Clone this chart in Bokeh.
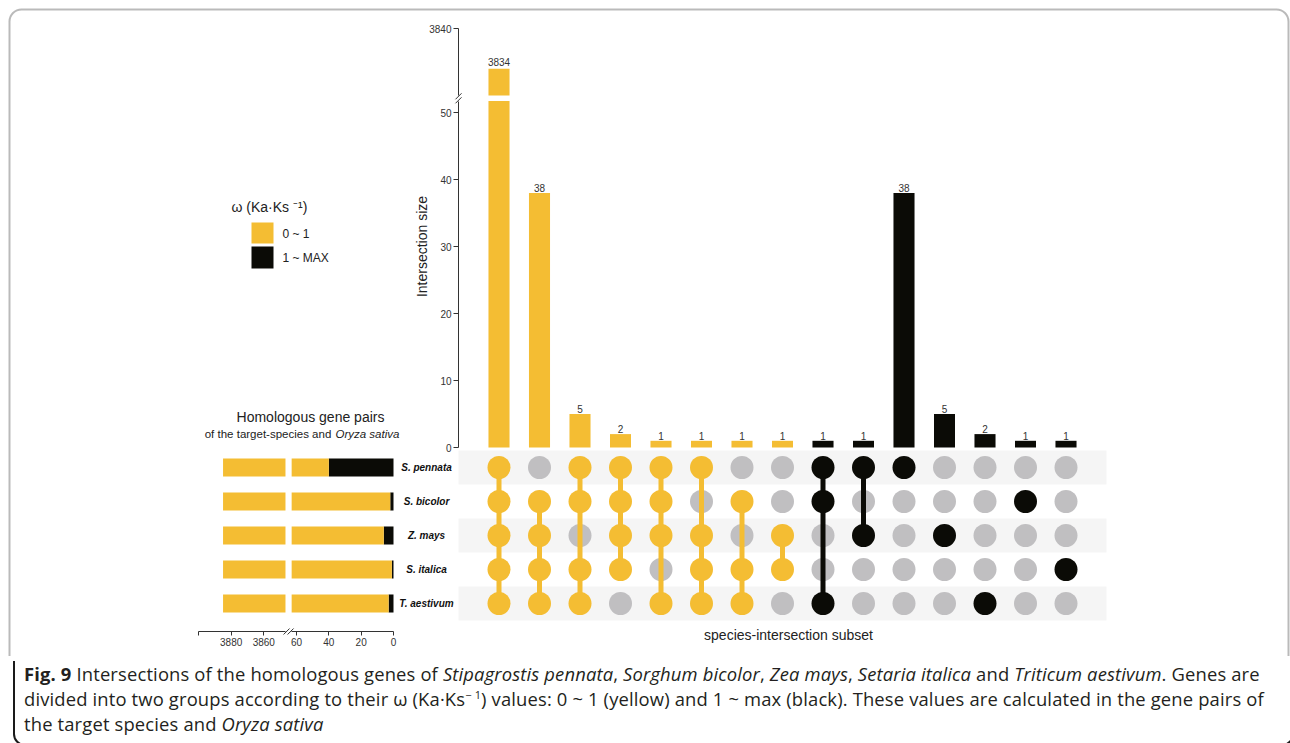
import math
from bokeh.plotting import figure
from bokeh.models import Range1d, LinearAxis, FixedTicker, BoxAnnotation, Div
from bokeh.layouts import column
from bokeh.embed import file_html
from bokeh.resources import INLINE
from bokeh.core.properties import value

# ---------------- data ----------------
species = ["S. pennata", "S. bicolor", "Z. mays", "S. italica", "T. aestivum"]
subset_sizes = [3834, 38, 5, 2, 1, 1, 1, 1, 1, 1, 38, 5, 2, 1, 1]
subset_group = ["0 ~ 1"] * 8 + ["1 ~ MAX"] * 7
# membership of each species (rows) in each intersection subset (columns)
membership = [
    [1, 0, 1, 1, 1, 1, 0, 0, 1, 1, 1, 0, 0, 0, 0],  # S. pennata
    [1, 1, 1, 1, 1, 0, 1, 0, 1, 0, 0, 0, 0, 1, 0],  # S. bicolor
    [1, 1, 0, 1, 1, 1, 0, 1, 0, 1, 0, 1, 0, 0, 0],  # Z. mays
    [1, 1, 1, 1, 0, 1, 1, 1, 0, 0, 0, 0, 0, 0, 1],  # S. italica
    [1, 1, 1, 0, 1, 1, 1, 0, 1, 0, 0, 0, 1, 0, 0],  # T. aestivum
]
pairs_low = [3845, 3883, 3879, 3884, 3882]   # omega 0 ~ 1
pairs_high = [40, 2, 6, 1, 3]                # omega 1 ~ MAX
legend_labels = ["0 ~ 1", "1 ~ MAX"]
ticks_lower = [0, 10, 20, 30, 40, 50]
ticks_upper = [3840]
ticks_near = [0, 20, 40, 60]
ticks_far = [3860, 3880, 3900]

# ---------------- style ----------------
YEL = "#F4BD33"
BLK = "#0B0B06"
GRY = "#C0BFC1"
BAND = "#F5F5F5"
AX = "#333333"
TXT = "#222222"
colors = {"0 ~ 1": YEL, "1 ~ MAX": BLK}
FONT = "Liberation Sans"

W, HF, HD = 1290, 656, 86
OX, OY = 0, 0

LO_TOP = 51.7      # top of the lower y segment
UP_BOT = 3830      # bottom of the upper y segment
NEAR_MAX = 63      # end of the near x segment of the left panel
FAR_MIN = 3846.7   # end of the far x segment of the left panel


def lin(d0, p0, d1, p1):
    k = (d1 - d0) / (p1 - p0)
    return lambda p: d0 + (p - p0) * k


def xr(d0, p0, d1, p1):
    f = lin(d0, p0, d1, p1)
    return Range1d(start=f(OX), end=f(OX + W))


def yr(d0, p0, d1, p1):
    f = lin(d0, p0, d1, p1)
    return Range1d(start=f(OY + HF), end=f(OY))


p = figure(width=W, height=HF, x_range=Range1d(OX, OX + W), y_range=Range1d(OY + HF, OY),
           x_axis_type=None, y_axis_type=None, toolbar_location=None, output_backend="svg",
           min_border=0, outline_line_color=None, background_fill_color="white",
           border_fill_color="white")

p.extra_x_ranges = {
    "mx": xr(0, 458, 16, 1106),
    "near": xr(0, 393, 60, 296),
    "far": xr(3880, 230.7, 3860, 263.3),
}
p.extra_y_ranges = {
    "yl": yr(0, 447, 50, 112),
    "yu": yr(3840, 28, 3830, 95),
    "mat": yr(1, 467, 5, 603),
}
page_y_lo = lin(447, 0, 112, 50)       # data -> page for lower segment
page_y_up = lin(28, 3840, 95, 3830)
page_x_near = lin(393, 0, 296, 60)
page_x_far = lin(230.7, 3880, 263.3, 3860)

ncol = len(subset_sizes)
cols = list(range(1, ncol + 1))
rows = list(range(1, len(species) + 1))
bar_col = [colors[g] for g in subset_group]

# ---------- matrix background bands ----------
band_rows = [r for r in rows if r % 2 == 1]
p.quad(left=[0] * len(band_rows), right=[16] * len(band_rows),
       bottom=[r - 0.5 for r in band_rows], top=[r + 0.5 for r in band_rows],
       fill_color=BAND, line_color=None, x_range_name="mx", y_range_name="mat")

# ---------- intersection bars ----------
lo_top = [min(v, LO_TOP) for v in subset_sizes]
p.vbar(x=cols, bottom=0, top=lo_top, width=0.52, fill_color=bar_col, line_color=None,
       x_range_name="mx", y_range_name="yl")
up_x = [c for c, v in zip(cols, subset_sizes) if v > UP_BOT]
up_v = [v for v in subset_sizes if v > UP_BOT]
up_c = [bc for bc, v in zip(bar_col, subset_sizes) if v > UP_BOT]
p.vbar(x=up_x, bottom=UP_BOT, top=up_v, width=0.52, fill_color=up_c, line_color=None,
       x_range_name="mx", y_range_name="yu")

lo_x = [c for c, v in zip(cols, subset_sizes) if v <= LO_TOP]
lo_v = [v for v in subset_sizes if v <= LO_TOP]
p.text(x=lo_x, y=lo_v, text=[str(v) for v in lo_v], text_font=value(FONT),
       text_font_size="10px", text_color="#333333", text_align="center",
       text_baseline="bottom", y_offset=-1, x_range_name="mx", y_range_name="yl")
p.text(x=up_x, y=up_v, text=[str(v) for v in up_v], text_font=value(FONT),
       text_font_size="10px", text_color="#333333", text_align="center",
       text_baseline="bottom", y_offset=-3, x_range_name="mx", y_range_name="yu")

# ---------- matrix dots and lines ----------
gx, gy, ax_, ay_, ac_ = [], [], [], [], []
sx0, sy0, sy1, sc = [], [], [], []
for j, c in enumerate(cols):
    act = [r for r, row in zip(rows, membership) if row[j]]
    for r, row in zip(rows, membership):
        if row[j]:
            ax_.append(c); ay_.append(r); ac_.append(bar_col[j])
        else:
            gx.append(c); gy.append(r)
    if len(act) > 1:
        sx0.append(c); sy0.append(min(act)); sy1.append(max(act)); sc.append(bar_col[j])

p.scatter(x=gx, y=gy, size=23, marker="circle", fill_color=GRY, line_color=None,
          x_range_name="mx", y_range_name="mat")
p.segment(x0=sx0, y0=sy0, x1=sx0, y1=sy1, line_width=5, line_color=sc,
          x_range_name="mx", y_range_name="mat")
p.scatter(x=ax_, y=ay_, size=23, marker="circle", fill_color=ac_, line_color=None,
          x_range_name="mx", y_range_name="mat")

# ---------- left panel: homologous gene pairs ----------
tot = [a + b for a, b in zip(pairs_low, pairs_high)]
p.hbar(y=rows, left=0, right=pairs_high, height=0.53, fill_color=BLK, line_color=None,
       x_range_name="near", y_range_name="mat")
p.hbar(y=rows, left=pairs_high, right=[min(t, NEAR_MAX) for t in tot], height=0.53,
       fill_color=YEL, line_color=None, x_range_name="near", y_range_name="mat")
p.hbar(y=rows, left=[FAR_MIN] * len(rows), right=tot, height=0.53,
       fill_color=YEL, line_color=None, x_range_name="far", y_range_name="mat")

p.text(x=[426] * len(species), y=rows, text=species, text_font=value(FONT),
       text_font_size="10px", text_font_style="bold italic", text_color="#111111",
       text_align="center", text_baseline="middle", y_range_name="mat")


def style_axis(ax):
    ax.axis_line_color = AX
    ax.axis_line_width = 1
    ax.major_tick_line_color = AX
    ax.major_tick_out = 5
    ax.major_tick_in = 0
    ax.minor_tick_line_color = None
    ax.major_label_text_font = FONT
    ax.major_label_text_font_size = "10px"
    ax.major_label_text_color = "#333333"
    ax.major_label_standoff = 2


ax_lo = LinearAxis(y_range_name="yl", fixed_location=458, bounds=(0, LO_TOP),
                   ticker=FixedTicker(ticks=ticks_lower))
ax_up = LinearAxis(y_range_name="yu", fixed_location=458, bounds=(UP_BOT, 3840),
                   ticker=FixedTicker(ticks=ticks_upper))
ax_near = LinearAxis(x_range_name="near", fixed_location=631, bounds=(0, NEAR_MAX),
                     ticker=FixedTicker(ticks=ticks_near))
ax_far = LinearAxis(x_range_name="far", fixed_location=631, bounds=(FAR_MIN, 3900),
                    ticker=FixedTicker(ticks=ticks_far),
                    major_label_overrides={3900: ""})
for a in (ax_lo, ax_up, ax_near, ax_far):
    style_axis(a)
ax_near.major_tick_out = 4
ax_far.major_tick_out = 4
p.add_layout(ax_lo, "left")
p.add_layout(ax_up, "left")
p.add_layout(ax_near, "below")
p.add_layout(ax_far, "below")

# axis break marks
yb = (page_y_lo(LO_TOP) + page_y_up(UP_BOT)) / 2
xb = (page_x_near(NEAR_MAX) + page_x_far(FAR_MIN)) / 2
p.segment(x0=[455, 455], y0=[yb + 1, yb + 5], x1=[461, 461], y1=[yb - 5, yb - 1],
          line_color=AX, line_width=1)
p.segment(x0=[xb - 5, xb - 1], y0=[634, 634], x1=[xb + 1, xb + 5], y1=[628, 628],
          line_color=AX, line_width=1)

# ---------- titles ----------
p.text(x=[421], y=[246], text=["Intersection size"], angle=math.pi / 2,
       text_font=value(FONT), text_font_size="14px", text_color=TXT,
       text_align="center", text_baseline="middle")
p.text(x=[788], y=[634], text=["species-intersection subset"],
       text_font=value(FONT), text_font_size="14px", text_color=TXT,
       text_align="center", text_baseline="middle")
p.text(x=[310], y=[416], text=["Homologous gene pairs"],
       text_font=value(FONT), text_font_size="14px", text_color=TXT,
       text_align="center", text_baseline="middle")
p.text(x=[334], y=[433], text=["of the target-species and "],
       text_font=value(FONT), text_font_size="11.5px", text_color=TXT,
       text_align="right", text_baseline="middle")
p.text(x=[335], y=[433], text=["Oryza sativa"],
       text_font=value(FONT), text_font_size="11.5px", text_font_style="italic",
       text_color=TXT, text_align="left", text_baseline="middle")

# ---------- legend ----------
p.text(x=[231], y=[206], text=["ω (Ka·Ks ⁻¹)"], text_font=value(FONT),
       text_font_size="14px", text_color=TXT, text_align="left", text_baseline="middle")
p.quad(left=[251, 251], right=[273, 273], top=[222, 246], bottom=[243, 268],
       fill_color=[colors[l] for l in legend_labels], line_color=None)
p.text(x=[282, 282], y=[233, 257], text=legend_labels, text_font=value(FONT),
       text_font_size="12px", text_color=TXT, text_align="left", text_baseline="middle")

# ---------- frame ----------
p.add_layout(BoxAnnotation(left=9, right=1288, top=9, bottom=HF + 40,
                           fill_color=None, fill_alpha=0, line_color="#1a1a1a",
                           line_width=2, border_radius=12))

cap_html = (
    '<div style="box-sizing:border-box;margin-left:8px;width:1281px;height:%dpx;'
    'border:2px solid #1a1a1a;border-top:none;border-radius:0 0 12px 12px;'
    'padding:0 0 0 9px;font-family:\'Open Sans\', sans-serif;font-size:18.4px;'
    'letter-spacing:0.15px;line-height:25px;color:#231f20;white-space:nowrap;">'
    '<b>Fig. 9</b> Intersections of the homologous genes of <i>Stipagrostis pennata</i>, '
    '<i>Sorghum bicolor</i>, <i>Zea mays</i>, <i>Setaria italica</i> and '
    '<i>Triticum aestivum</i>. Genes are<br>'
    'divided into two groups according to their ω (Ka·Ks<sup style="font-size:11px;'
    'line-height:0;">− 1</sup>) values: 0 ~ 1 (yellow) and 1 ~ max (black). These values '
    'are calculated in the gene pairs of<br>'
    'the target species and <i>Oryza sativa</i></div>'
) % (HD - 1)
cap = Div(text=cap_html, width=W, height=HD)

layout = column(p, cap)
open("out.html", "w").write(file_html(layout, INLINE))
